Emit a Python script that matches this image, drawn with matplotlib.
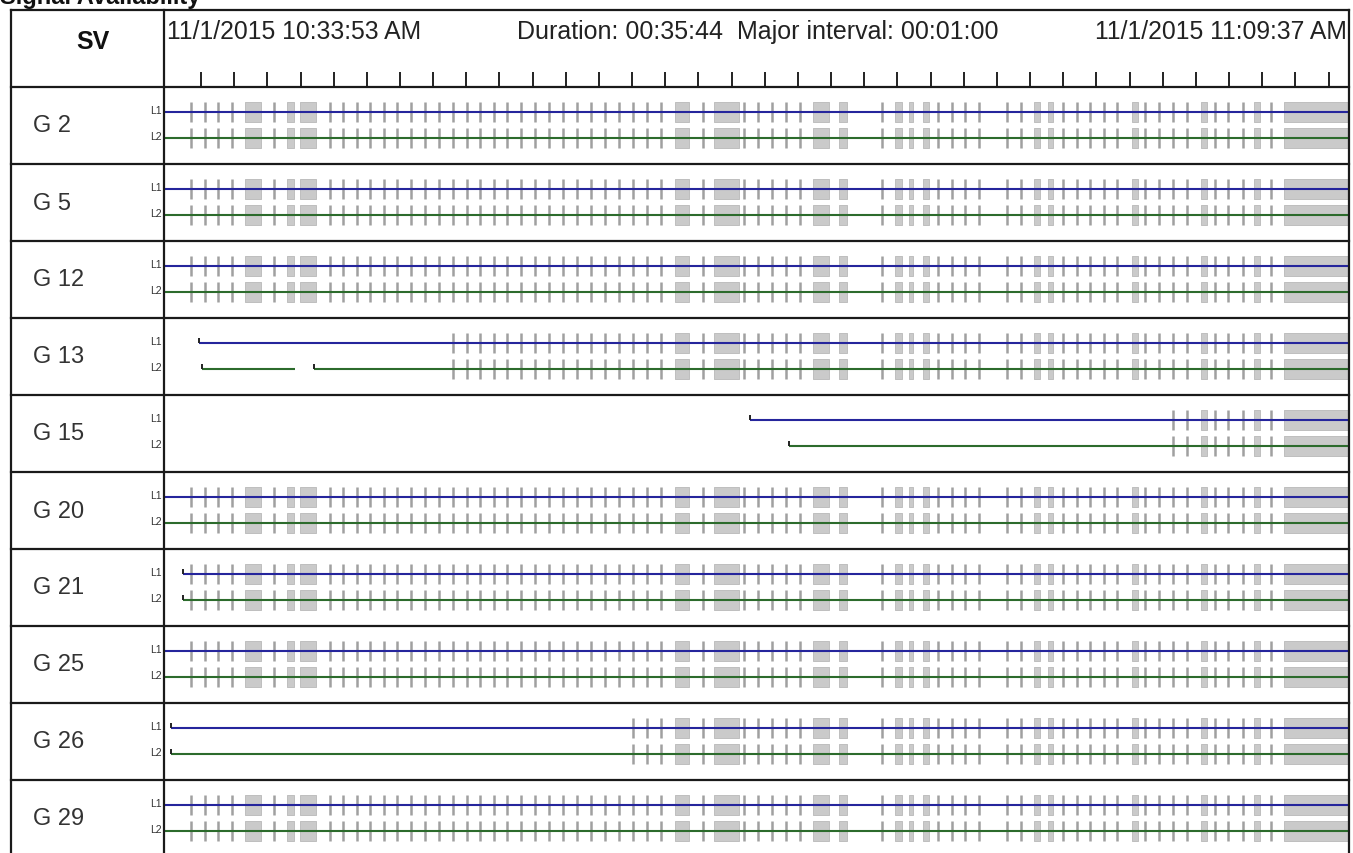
import numpy as np
import matplotlib
matplotlib.use("Agg")
import matplotlib.pyplot as plt

W, H = 1353, 854
plt.rcParams["font.family"] = ["Liberation Sans", "DejaVu Sans"]

# ---- data: seconds from 11/1/2015 10:33:53 AM ----
START_LABEL = "11/1/2015 10:33:53 AM"
END_LABEL = "11/1/2015 11:09:37 AM"
INFO_LABEL = "Duration: 00:35:44  Major interval: 00:01:00"
DURATION_S = 2144
FIRST_TICK_S = 67      # 10:35:00
TICK_STEP_S = 60

SATS = ["G 2", "G 5", "G 12", "G 13", "G 15", "G 20", "G 21", "G 25", "G 26", "G 29"]

L1_ARCS = [
    [(0, 2144)], [(0, 2144)], [(0, 2144)], [(63, 2144)], [(1060, 2144)],
    [(0, 2144)], [(34, 2144)], [(0, 2144)], [(13, 2144)], [(0, 2144)],
]
L2_ARCS = [
    [(0, 2144)], [(0, 2144)], [(0, 2144)], [(69, 237), (271, 2144)], [(1130, 2144)],
    [(0, 2144)], [(34, 2144)], [(0, 2144)], [(13, 2144)], [(0, 2144)],
]
# first epoch from which the slip / gap marks are shown for each satellite
MARKS_FROM = [0, 0, 0, 523, 1826, 0, 0, 0, 849, 0]

SLIP_TIMES = [
    49, 74, 98, 123, 199, 300, 324, 349, 373, 398, 422, 447, 472, 498, 523,
    548, 572, 597, 621, 646, 671, 697, 722, 747, 773, 798, 823, 849, 874, 899,
    975, 1049, 1075, 1100, 1125, 1151, 1299, 1400, 1426, 1449, 1475, 1525,
    1551, 1627, 1652, 1676, 1701, 1724, 1775, 1800, 1826, 1851, 1902, 1925,
    1952, 2003,
]
GAP_SPANS = [
    (147, 176), (223, 235), (246, 275), (925, 950), (995, 1040), (1174, 1203),
    (1221, 1236), (1323, 1335), (1348, 1355), (1373, 1384), (1574, 1585),
    (1600, 1609), (1751, 1762), (1876, 1887), (1972, 1983), (2027, 2144),
]

# ---- layout (pixels) ----
X0, X1 = 11, 1349        # table left / right border
XS = 164                 # SV column separator
Y_TOP, Y_HEAD = 11, 88   # table top / header bottom
ROW_H = 77
L1_OFF, L2_OFF = 25, 51
HALF = 10

L1_COLOR = "#25259c"
L2_COLOR = "#2c6b2c"
SLIP_COLOR = "#a0a0a0"
GAP_COLOR = "#cacaca"

fig = plt.figure(figsize=(W / 100, H / 100), dpi=100)
fig.patch.set_facecolor("white")

# data area
ax = fig.add_axes([XS / W, 0, (X1 - XS) / W, (H - Y_HEAD) / H])
ax.set_xlim(0, DURATION_S)
ax.set_ylim(H - Y_HEAD, 0)
ax.axis("off")

for i, sat in enumerate(SATS):
    top = i * ROW_H
    for off, arcs, color in [(L1_OFF, L1_ARCS[i], L1_COLOR), (L2_OFF, L2_ARCS[i], L2_COLOR)]:
        y = top + off
        slips = [t for t in SLIP_TIMES if t >= MARKS_FROM[i]]
        gaps = [(s, e - s) for s, e in GAP_SPANS if s >= MARKS_FROM[i]]
        ax.broken_barh(gaps, (y - HALF, 2 * HALF), facecolors=GAP_COLOR,
                       edgecolor="#b8b8b8", linewidth=0.6, zorder=1)
        ax.vlines(slips, y - HALF, y + HALF, color=SLIP_COLOR, linewidth=1.8, zorder=2)
        for s, e in arcs:
            ax.plot([s, e], [y, y], color=color, linewidth=1.5, zorder=3,
                    solid_capstyle="butt")
            if s > 0:
                ax.vlines(s, y - 5, y, color="#222222", linewidth=1.4, zorder=4)

# header with minute ticks
axh = fig.add_axes([XS / W, (H - Y_HEAD) / H, (X1 - XS) / W, (Y_HEAD - Y_TOP) / H])
axh.set_xlim(0, DURATION_S)
axh.set_ylim(Y_HEAD - Y_TOP, 0)
axh.axis("off")
ticks = np.arange(FIRST_TICK_S, DURATION_S, TICK_STEP_S)
axh.vlines(ticks, 62, 77, color="#111111", linewidth=1.3)

# frame, grid and text in pixel coordinates
fr = fig.add_axes([0, 0, 1, 1])
fr.set_xlim(0, W)
fr.set_ylim(H, 0)
fr.axis("off")
fr.set_zorder(5)
fr.patch.set_alpha(0)

lc = "#1a1a1a"
lw = 1.6
fr.plot([X0, X1], [Y_TOP, Y_TOP], color=lc, lw=lw)
fr.plot([X0, X0], [Y_TOP, H], color=lc, lw=lw)
fr.plot([X1, X1], [Y_TOP, H], color=lc, lw=lw)
fr.plot([XS, XS], [Y_TOP, H], color=lc, lw=lw)
for k in range(len(SATS)):
    yb = Y_HEAD + k * ROW_H
    fr.plot([X0, X1], [yb, yb], color=lc, lw=lw)

fr.text(93, 42, "SV", fontsize=18, fontweight="bold", ha="center", va="center", color="#111111")
fr.text(167, 32, START_LABEL, fontsize=17.8, ha="left", va="center", color="#222222")
fr.text(517, 32, INFO_LABEL, fontsize=18, ha="left", va="center", color="#222222")
fr.text(1347, 32, END_LABEL, fontsize=17.8, ha="right", va="center", color="#222222")
# page title, cut off by the top edge as in the screenshot
fr.text(0, 4, "Signal Availability", fontsize=17, fontweight="bold", ha="left",
        va="baseline", color="#111111")

for k, sat in enumerate(SATS):
    top = Y_HEAD + k * ROW_H
    fr.text(33, top + ROW_H / 2, sat, fontsize=17, ha="left", va="center", color="#333333")
    fr.text(162, top + L1_OFF - 2, "L1", fontsize=7.5, ha="right", va="center", color="#333333")
    fr.text(162, top + L2_OFF - 2, "L2", fontsize=7.5, ha="right", va="center", color="#333333")

fig.savefig("out.png", dpi=100, facecolor="white")
